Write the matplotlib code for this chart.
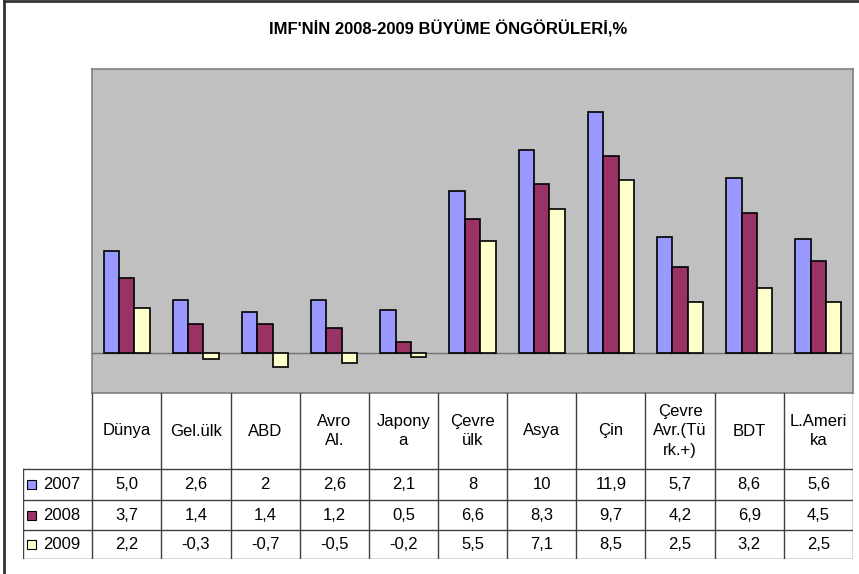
import matplotlib
matplotlib.use("Agg")
import matplotlib.pyplot as plt
from matplotlib.lines import Line2D
from matplotlib.patches import Rectangle

plt.rcParams['font.family'] = ['Liberation Sans', 'DejaVu Sans']

title = "IMF'NİN 2008-2009 BÜYÜME ÖNGÖRÜLERİ,%"
categories = ["Dünya", "Gel.ülk", "ABD", "Avro\nAl.", "Japony\na", "Çevre\nülk",
              "Asya", "Çin", "Çevre\nAvr.(Tü\nrk.+)", "BDT", "L.Ameri\nka"]
series_names = ["2007", "2008", "2009"]
# values as they appear in the data table
values_2007 = ["5,0", "2,6", "2", "2,6", "2,1", "8", "10", "11,9", "5,7", "8,6", "5,6"]
values_2008 = ["3,7", "1,4", "1,4", "1,2", "0,5", "6,6", "8,3", "9,7", "4,2", "6,9", "4,5"]
values_2009 = ["2,2", "-0,3", "-0,7", "-0,5", "-0,2", "5,5", "7,1", "8,5", "2,5", "3,2", "2,5"]
series_text = [values_2007, values_2008, values_2009]
colors = ["#9999FF", "#993366", "#FFFFCC"]

W, H = 859, 574
fig = plt.figure(figsize=(W / 100, H / 100), dpi=100)


def fig_rect(x0, y0, x1, y1):
    # pixel box (top-left origin) -> figure fraction
    return [x0 / W, 1 - y1 / H, (x1 - x0) / W, (y1 - y0) / H]


# outer chart frame (only left/top visible in the crop)
fig.add_artist(Line2D([4 / W, 4 / W], [0, 1 - 1 / H], transform=fig.transFigure,
                      color="#333333", lw=2))
fig.add_artist(Line2D([4 / W, 1], [1 - 1 / H, 1 - 1 / H], transform=fig.transFigure,
                      color="#333333", lw=2))

fig.text(448 / W, 1 - 29 / H, title, ha="center", va="center",
         fontsize=12, fontweight="bold")

# plot area
PL, PR, PT, PB = 92, 853, 69, 393
ax = fig.add_axes(fig_rect(PL, PT, PR, PB))
ax.set_facecolor("#C0C0C0")
n = len(categories)
bw = 0.667 / 3
for i, (name, txt, c) in enumerate(zip(series_names, series_text, colors)):
    vals = [float(s.replace(",", ".")) for s in txt]
    xs = [k + (i - 1) * bw for k in range(n)]
    ax.bar(xs, vals, width=bw, color=c, edgecolor="black", linewidth=1.2, zorder=3)
ax.axhline(0, color="#707070", lw=1, zorder=2)
ax.set_xlim(-0.5, n - 0.5)
ax.set_ylim(-2, 14)
ax.set_xticks([])
ax.set_yticks([])
for s in ax.spines.values():
    s.set_color("#808080")
    s.set_linewidth(1.2)

# data table below the plot
TL = 23
colw = (PR - PL) / n
rows_y = [393, 469, 500, 530, 559]
tax = fig.add_axes(fig_rect(TL, rows_y[0], PR, rows_y[-1]))
tax.set_xlim(-1.5, n - 0.5)
tax.set_ylim(rows_y[-1], rows_y[0])
tax.axis("off")
lc = "#404040"
lw = 1.0
for y in rows_y[1:]:
    tax.plot([-1.5, n - 0.5], [y, y], color=lc, lw=lw)
tax.plot([-1.5, -1.5], [rows_y[1], rows_y[-1]], color=lc, lw=lw)
for k in range(n + 1):
    tax.plot([k - 0.5, k - 0.5], [rows_y[0], rows_y[-1]], color=lc, lw=lw)

fs = 12
hy = (rows_y[0] + rows_y[1]) / 2
for k, cat in enumerate(categories):
    tax.text(k, hy, cat, ha="center", va="center", fontsize=fs, linespacing=1.35)

for i, (name, txt, c) in enumerate(zip(series_names, series_text, colors)):
    yc = (rows_y[i + 1] + rows_y[i + 2]) / 2
    tax.add_patch(Rectangle((-1.5 + 4 / colw, yc - 4.5), 9 / colw, 9,
                            facecolor=c, edgecolor="black", lw=0.8))
    tax.text(-1.5 + 20 / colw, yc, name, ha="left", va="center", fontsize=fs)
    for k, s in enumerate(txt):
        tax.text(k, yc, s, ha="center", va="center", fontsize=fs)

fig.savefig("out.png", dpi=100)
